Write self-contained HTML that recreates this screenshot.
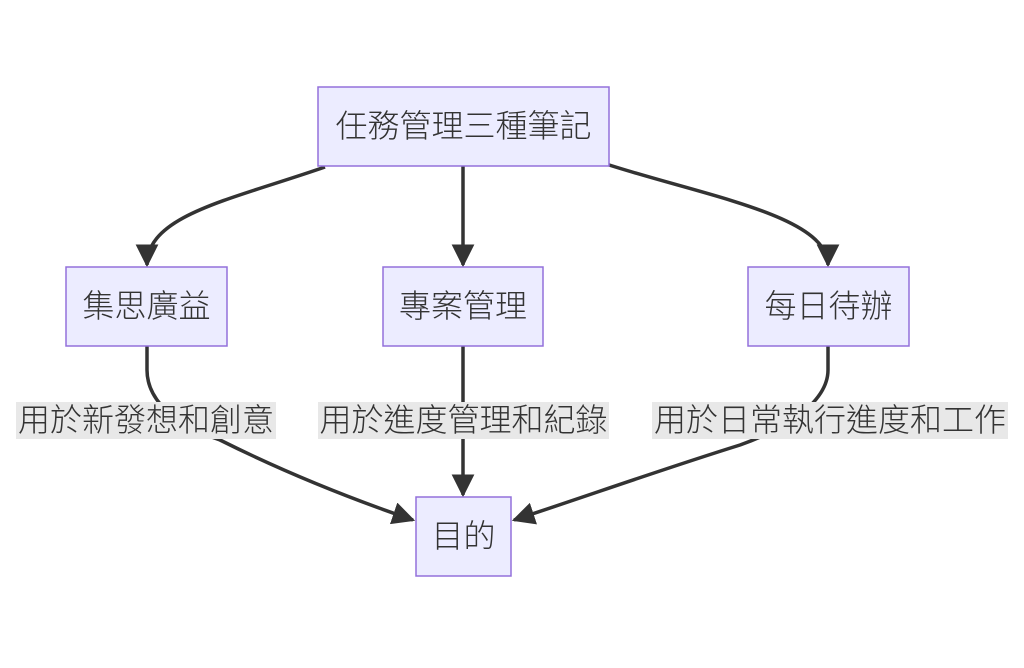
<!DOCTYPE html>
<html><head><meta charset="utf-8"><style>
html,body{margin:0;padding:0;background:#fff;}
svg text{font-family:"Liberation Sans","Noto Sans CJK TC",sans-serif;font-size:32px;font-weight:300;fill:#333;}
</style></head><body>
<svg width="1024" height="663" viewBox="0 0 1024 663" xmlns="http://www.w3.org/2000/svg">
<defs>
<marker id="a" viewBox="0 0 10 10" refX="9" refY="5" markerWidth="6.5" markerHeight="6.5" markerUnits="strokeWidth" orient="auto"><path d="M0,0 L10,5 L0,10 z" fill="#333"/></marker>
</defs>
<g fill="none" stroke="#333" stroke-width="3.5">
<path d="M325,167 C230,200 147,215 147,265" marker-end="url(#a)"/>
<path d="M463,166 L463,265" marker-end="url(#a)"/>
<path d="M603,163 C700,195 828,215 828,265" marker-end="url(#a)"/>
<path d="M147,346 L147,370 C147,390 160,420 220,440 C280,470 340,495 413,520" marker-end="url(#a)"/>
<path d="M463,346 L463,495" marker-end="url(#a)"/>
<path d="M828,346 L828,370 C828,390 810,420 740,445 C660,470 590,495 514,520" marker-end="url(#a)"/>
</g>
<g fill="#e8e8e8">
<rect x="16" y="402" width="260" height="37"/>
<rect x="318" y="402" width="291" height="37"/>
<rect x="652" y="402" width="356" height="37"/>
</g>
<g fill="#ececff" stroke="#9370db" stroke-width="1.5">
<rect x="318" y="87" width="291" height="79"/>
<rect x="66" y="267" width="161" height="79"/>
<rect x="383" y="267" width="160" height="79"/>
<rect x="748" y="267" width="161" height="79"/>
<rect x="416" y="497" width="95" height="79"/>
</g>
<g text-anchor="middle">
<text x="463.5" y="137">任務管理三種筆記</text>
<text x="146.5" y="317">集思廣益</text>
<text x="463" y="317">專案管理</text>
<text x="828.5" y="317">每日待辦</text>
<text x="463.5" y="547">目的</text>
<text x="146" y="431">用於新發想和創意</text>
<text x="463.5" y="431">用於進度管理和紀錄</text>
<text x="830" y="431">用於日常執行進度和工作</text>
</g>
</svg>
</body></html>
